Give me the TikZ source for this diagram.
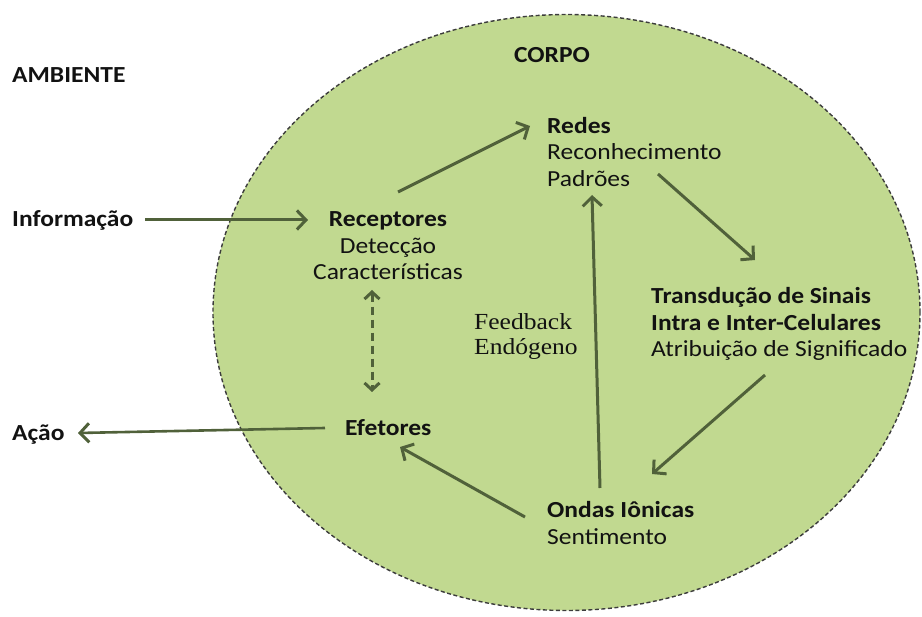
\documentclass[tikz,border=0pt]{standalone}
\usepackage{fontspec}
\setmainfont[FakeStretch=1.11]{Carlito}
\newfontfamily\fbfont[FakeStretch=1.11]{Liberation Serif}
\usetikzlibrary{arrows.meta,shapes.geometric}
\definecolor{bodyfill}{RGB}{193,217,144}
\definecolor{arr}{RGB}{80,97,58}
\definecolor{txt}{RGB}{18,18,18}
\definecolor{rim}{RGB}{60,60,60}
\begin{document}
\begin{tikzpicture}[x=1pt,y=-1pt,
  every node/.style={inner sep=0pt, text=txt, font=\fontsize{23}{26.5}\selectfont},
  conn/.style={draw=arr, line width=3pt, -{Straight Barb[length=9pt,width=19pt,line width=3pt]}},
  dconn/.style={draw=arr, line width=3pt, dash pattern=on 8pt off 5pt, {Straight Barb[length=7pt,width=15pt,line width=3pt]}-{Straight Barb[length=7pt,width=15pt,line width=3pt]}}]
\useasboundingbox (0,0) rectangle (922,617);
\node[ellipse, draw=rim, fill=bodyfill, line width=1.4pt, dash pattern=on 4pt off 2.5pt,
      minimum width=707pt, minimum height=596pt] (body) at (566.5,312.5) {};
\node[anchor=west] (amb) at (12,75) {\bfseries AMBIENTE};
\node (corpo) at (552,55) {\bfseries CORPO};
\node[anchor=west] (info) at (12,220) {\bfseries Informação};
\node[anchor=west] (acao) at (12,435) {\bfseries Ação};
\node[align=center] (rec) at (388,246) {\textbf{Receptores}\\Detecção\\Características};
\node[align=left, anchor=west] (redes) at (547,152) {\textbf{Redes}\\Reconhecimento\\Padrões};
\node[align=left, anchor=west] (trans) at (651,324) {\textbf{Transdução de Sinais}\\\textbf{Intra e Inter-Celulares}\\Atribuição de Significado};
\node[align=left, anchor=west, font=\fbfont\fontsize{23}{25}\selectfont] (fb) at (474,337) {Feedback\\Endógeno};
\node[anchor=west] (efe) at (345,428) {\bfseries Efetores};
\node[align=left, anchor=west] (ondas) at (547,523) {\textbf{Ondas Iônicas}\\Sentimento};
% connector ends
\coordinate (infoOut) at (145,220);
\coordinate (recIn) at (308,220);
\coordinate (recOut) at (398,192);
\coordinate (redesIn) at (530,126);
\coordinate (redesOut) at (658,174);
\coordinate (transIn) at (755,260);
\coordinate (transOut) at (765,375);
\coordinate (ondasIn) at (652,474);
\coordinate (ondasOutL) at (525,517);
\coordinate (efeIn) at (400,447);
\coordinate (ondasOutU) at (600,488);
\coordinate (redesInB) at (592,195);
\coordinate (efeOut) at (325,428);
\coordinate (acaoIn) at (78,433);
\coordinate (recB) at (372,290);
\coordinate (efeT) at (372,392);
\draw[conn] (infoOut) -- (recIn);
\draw[conn] (recOut) -- (redesIn);
\draw[conn] (redesOut) -- (transIn);
\draw[conn] (transOut) -- (ondasIn);
\draw[conn] (ondasOutL) -- (efeIn);
\draw[conn] (ondasOutU) -- (redesInB);
\draw[conn, line width=2.6pt] (efeOut) -- (acaoIn);
\draw[dconn] (recB) -- (efeT);
\end{tikzpicture}
\end{document}
